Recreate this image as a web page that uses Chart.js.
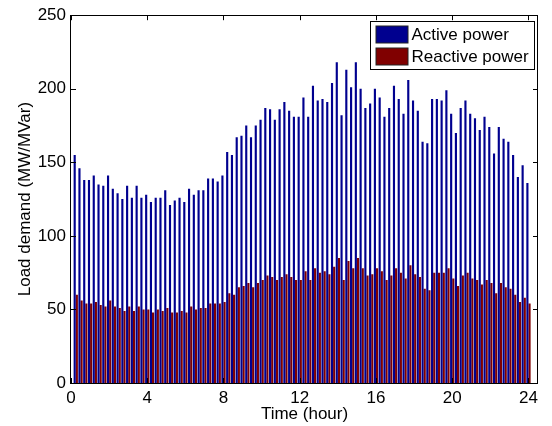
<!DOCTYPE html>
<html>
<head>
<meta charset="utf-8">
<title>Load demand</title>
<script src="https://cdn.jsdelivr.net/npm/chart.js@4.4.0/dist/chart.umd.min.js"></script>
<style>
    html, body { margin: 0; padding: 0; background: #fff; }
    #chart-wrap { width: 552px; height: 426px; }
</style>
</head>
<body>
<div id="chart-wrap"><canvas id="load-chart" width="552" height="426"></canvas></div>
<script>
// 15-minute time slots over the day (hour)
const timeSlots = [
    0.25, 0.5, 0.75, 1, 1.25, 1.5, 1.75, 2, 2.25, 2.5, 2.75, 3,
    3.25, 3.5, 3.75, 4, 4.25, 4.5, 4.75, 5, 5.25, 5.5, 5.75, 6,
    6.25, 6.5, 6.75, 7, 7.25, 7.5, 7.75, 8, 8.25, 8.5, 8.75, 9,
    9.25, 9.5, 9.75, 10, 10.25, 10.5, 10.75, 11, 11.25, 11.5, 11.75, 12,
    12.25, 12.5, 12.75, 13, 13.25, 13.5, 13.75, 14, 14.25, 14.5, 14.75, 15,
    15.25, 15.5, 15.75, 16, 16.25, 16.5, 16.75, 17, 17.25, 17.5, 17.75, 18,
    18.25, 18.5, 18.75, 19, 19.25, 19.5, 19.75, 20, 20.25, 20.5, 20.75, 21,
    21.25, 21.5, 21.75, 22, 22.25, 22.5, 22.75, 23, 23.25, 23.5, 23.75, 24
];

// Active power demand (MW)
const activePower = [
    155, 146, 138, 138, 141, 135, 134, 141, 132, 129, 125, 134,
    126, 134, 126, 128, 123, 126, 126, 131, 121, 124, 126, 123,
    132, 128, 131, 131, 139, 139, 137, 141, 157, 155, 167, 168,
    175, 167, 175, 179, 187, 186, 179, 186, 191, 185, 181, 181,
    194, 181, 202, 192, 193, 191, 204, 218, 182, 213, 201, 218,
    200, 187, 190, 200, 194, 181, 187, 202, 193, 183, 206, 192,
    185, 164, 163, 193, 193, 192, 199, 183, 170, 187, 192, 183,
    180, 172, 181, 174, 156, 174, 166, 164, 155, 140, 148, 136
];

// Reactive power demand (MVar)
const reactivePower = [
    60, 56, 54, 54, 55, 53, 52, 56, 52, 51, 49, 52,
    49, 52, 50, 50, 48, 50, 49, 51, 48, 48, 49, 48,
    52, 50, 51, 51, 54, 54, 54, 55, 61, 60, 65, 66,
    68, 65, 68, 70, 73, 72, 70, 72, 74, 72, 70, 70,
    76, 70, 78, 75, 76, 74, 79, 85, 70, 83, 78, 85,
    78, 73, 74, 78, 76, 70, 73, 78, 75, 71, 80, 74,
    72, 64, 63, 75, 75, 75, 78, 71, 66, 73, 75, 71,
    70, 67, 70, 68, 61, 68, 65, 64, 60, 55, 58, 54
];

const seriesNames = ['Active power', 'Reactive power'];
const seriesColors = ['#00008f', '#800000'];
const xTicks = [0, 4, 8, 12, 16, 20, 24];
const yTicks = [0, 50, 100, 150, 200, 250];

const axisFont = { family: '"Liberation Sans", Arial, Helvetica, sans-serif', size: 17 };

// Build {x, y} points for a bar series on the linear time axis
function toPoints(values) {
    return values.map(function(v, i) {
        return { x: timeSlots[i], y: v };
    });
}

// Axes box with inward tick marks on all four sides
const axesBox = {
    id: 'axesBox',
    afterDraw: function(chart) {
        const ctx = chart.ctx;
        const area = chart.chartArea;
        const xs = chart.scales.x;
        const ys = chart.scales.y;
        const len = 5;
        ctx.save();
        ctx.strokeStyle = '#000';
        ctx.lineWidth = 1;
        ctx.beginPath();
        xTicks.forEach(function(v) {
            const px = Math.round(xs.getPixelForValue(v)) + 0.5;
            ctx.moveTo(px, area.bottom);
            ctx.lineTo(px, area.bottom - len);
            ctx.moveTo(px, area.top);
            ctx.lineTo(px, area.top + len);
        });
        yTicks.forEach(function(v) {
            const py = Math.round(ys.getPixelForValue(v)) + 0.5;
            ctx.moveTo(area.left, py);
            ctx.lineTo(area.left + len, py);
            ctx.moveTo(area.right, py);
            ctx.lineTo(area.right - len, py);
        });
        ctx.stroke();
        ctx.strokeRect(Math.round(area.left) - 0.5, Math.round(area.top) + 0.5,
            Math.round(area.right - area.left), Math.round(area.bottom - area.top));
        ctx.restore();
    }
};

// Boxed legend in the upper right corner of the plot
const insideLegend = {
    id: 'insideLegend',
    afterDraw: function(chart) {
        const ctx = chart.ctx;
        const area = chart.chartArea;
        const boxW = 164, boxH = 48;
        const left = Math.round(area.right) - boxW - 3.5;
        const top = Math.round(area.top) + 6.5;
        ctx.save();
        ctx.fillStyle = '#fff';
        ctx.fillRect(left, top, boxW, boxH);
        ctx.strokeStyle = '#000';
        ctx.lineWidth = 1;
        ctx.strokeRect(left, top, boxW, boxH);
        ctx.font = axisFont.size + 'px ' + axisFont.family;
        ctx.textBaseline = 'middle';
        chart.data.datasets.forEach(function(ds, i) {
            const sy = top + 4.5 + i * 22;
            ctx.fillStyle = ds.backgroundColor;
            ctx.fillRect(left + 5.5, sy, 32, 17);
            ctx.strokeStyle = '#222';
            ctx.strokeRect(left + 5.5, sy, 32, 17);
            ctx.fillStyle = '#000';
            ctx.fillText(ds.label, left + 41, sy + 9);
        });
        ctx.restore();
    }
};

const ctx = document.getElementById('load-chart').getContext('2d');
const loadChart = new Chart(ctx, {
    type: 'bar',
    data: {
        datasets: [
            {
                label: seriesNames[0],
                data: toPoints(activePower),
                backgroundColor: seriesColors[0],
                borderWidth: 0
            },
            {
                label: seriesNames[1],
                data: toPoints(reactivePower),
                backgroundColor: seriesColors[1],
                borderWidth: 0
            }
        ]
    },
    options: {
        responsive: false,
        animation: false,
        devicePixelRatio: 1,
        categoryPercentage: 0.9,
        barPercentage: 1,
        layout: { padding: { left: 0, right: 14, top: 11, bottom: 0 } },
        plugins: {
            legend: { display: false },
            tooltip: { enabled: false }
        },
        scales: {
            x: {
                type: 'linear',
                min: 0,
                max: 24.5,
                offset: false,
                grid: { display: false, drawTicks: false },
                border: { display: false },
                afterBuildTicks: function(scale) {
                    scale.ticks = xTicks.map(function(v) { return { value: v }; });
                },
                afterFit: function(scale) { scale.height = 43; },
                ticks: { font: axisFont, color: '#000', padding: 5, maxRotation: 0, autoSkip: false },
                title: {
                    display: true,
                    text: 'Time (hour)',
                    font: axisFont,
                    color: '#000',
                    padding: { top: 0, bottom: 1 }
                }
            },
            y: {
                min: 0,
                max: 250,
                grid: { display: false, drawTicks: false },
                border: { display: false },
                afterBuildTicks: function(scale) {
                    scale.ticks = yTicks.map(function(v) { return { value: v }; });
                },
                afterFit: function(scale) { scale.width = 71; },
                ticks: { font: axisFont, color: '#000', padding: 5 },
                title: {
                    display: true,
                    text: 'Load demand (MW/MVar)',
                    font: axisFont,
                    color: '#000',
                    padding: { top: 15, bottom: 0 }
                }
            }
        }
    },
    plugins: [axesBox, insideLegend]
});
</script>
</body>
</html>
